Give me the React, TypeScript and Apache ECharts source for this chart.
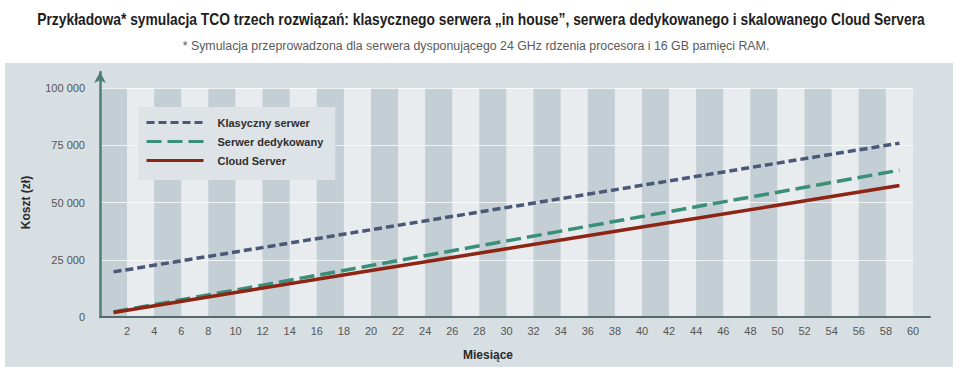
import React, { useEffect, useRef } from "react";
import * as echarts from "echarts";

const TITLE =
  "Przykładowa* symulacja TCO trzech rozwiązań: klasycznego serwera „in house”, serwera dedykowanego i skalowanego Cloud Servera";
const SUBTITLE =
  "* Symulacja przeprowadzona dla serwera dysponującego 24 GHz rdzenia procesora i 16 GB pamięci RAM.";
const Y_NAME = "Koszt (zł)";
const X_NAME = "Miesiące";

const seriesNames = ["Klasyczny serwer", "Serwer dedykowany", "Cloud Server"];
const months = [1, 10, 20, 30, 40, 50, 59];
const klasyczny = [19700, 28400, 38100, 47800, 57500, 67200, 75900];
const dedykowany = [2200, 11800, 22500, 33200, 43900, 54500, 64100];
const cloud = [2000, 10700, 20300, 29800, 39300, 48800, 57400];

const fmt = (v: number) => String(v).replace(/\B(?=(\d{3})+(?!\d))/g, " ");

const FONT = '"Liberation Sans", Arial, sans-serif';

function measure(text: string, font: string): number {
  const ctx = document.createElement("canvas").getContext("2d");
  if (!ctx) return 0;
  ctx.font = font;
  return ctx.measureText(text).width;
}

export default function App() {
  const ref = useRef<HTMLDivElement>(null);
  useEffect(() => {
    document.body.style.margin = "0";
    const chart = echarts.init(ref.current!, null, { renderer: "svg" });
    const pair = (vals: number[]) => months.map((m, i) => [m, vals[i]]);
    const titleW = measure(TITLE, `bold 17px ${FONT}`) || 1120;
    const subW = measure(SUBTITLE, `13.5px ${FONT}`) || 660;
    const titleScale = 888 / titleW;
    const subScale = 587 / subW;
    chart.setOption({
      animation: false,
      textStyle: { fontFamily: FONT },
      graphic: [
        {
          type: "rect",
          z: -10,
          silent: true,
          shape: { x: 5, y: 63, width: 948, height: 304 },
          style: { fill: "#d7dfe2" },
        },
        {
          type: "text",
          x: 481,
          y: 19,
          scaleX: titleScale,
          style: {
            text: TITLE,
            fontFamily: FONT,
            fontWeight: "bold",
            fontSize: 17,
            fill: "#1e1e1e",
            align: "center",
            verticalAlign: "middle",
          },
        },
        {
          type: "text",
          x: 476,
          y: 45,
          scaleX: subScale,
          style: {
            text: SUBTITLE,
            fontFamily: FONT,
            fontSize: 13.5,
            fill: "#5a5a5a",
            align: "center",
            verticalAlign: "middle",
          },
        },
        {
          type: "text",
          x: 488,
          y: 355,
          style: {
            text: X_NAME,
            fontWeight: "bold",
            fontSize: 12,
            fill: "#2a2a2a",
            align: "center",
            verticalAlign: "middle",
          },
        },
      ],
      grid: [
        { left: 100, right: 47, top: 88, bottom: 58 },
        { left: 100, right: 30, top: 72, bottom: 58 },
      ],
      legend: {
        orient: "vertical",
        left: 138,
        top: 107,
        data: seriesNames,
        itemWidth: 57,
        itemHeight: 12,
        itemGap: 8,
        padding: [10, 12, 14, 7],
        backgroundColor: "#dde3e6",
        itemStyle: { opacity: 0 },
        lineStyle: { width: 3 },
        textStyle: {
          fontSize: 11,
          fontWeight: "bold",
          color: "#2e2e2e",
          padding: [0, 0, 0, 9],
        },
      },
      xAxis: [
        {
          type: "value",
          gridIndex: 0,
          min: 0,
          max: 60,
          interval: 2,
          z: 0,
          axisLine: { show: false },
          axisTick: { show: false },
          splitLine: { show: false },
          splitArea: { show: true, areaStyle: { color: ["#c3cfd4", "#e8ecef"] } },
          axisLabel: { showMinLabel: false, fontSize: 11, color: "#555", margin: 8 },
        },
        {
          type: "value",
          gridIndex: 1,
          min: 0,
          max: 1,
          z: 3,
          axisLine: { show: true, onZero: false, lineStyle: { color: "#56696b", width: 2 } },
          axisTick: { show: false },
          axisLabel: { show: false },
          splitLine: { show: false },
        },
      ],
      yAxis: [
        {
          type: "value",
          gridIndex: 0,
          min: 0,
          max: 100000,
          interval: 25000,
          z: 1,
          name: Y_NAME,
          nameLocation: "middle",
          nameRotate: 90,
          nameGap: 68,
          nameTextStyle: { fontWeight: "bold", fontSize: 12, color: "#2a2a2a" },
          axisLine: { show: false },
          axisTick: { show: false },
          splitLine: { show: true, lineStyle: { color: "rgba(255,255,255,0.75)", width: 1 } },
          axisLabel: { fontSize: 11, color: "#555", margin: 15, formatter: (v: number) => fmt(v) },
        },
        {
          type: "value",
          gridIndex: 1,
          min: 0,
          max: 1,
          z: 3,
          axisLine: {
            show: true,
            onZero: false,
            symbol: ["none", "arrow"],
            symbolSize: [9, 11],
            lineStyle: { color: "#4e7f76", width: 2.5 },
          },
          axisTick: { show: false },
          axisLabel: { show: false },
          splitLine: { show: false },
        },
      ],
      series: [
        {
          name: seriesNames[0],
          type: "line",
          data: pair(klasyczny),
          symbol: "none",
          z: 5,
          lineStyle: { color: "#4b5878", width: 3.5, type: [8, 4] },
          itemStyle: { color: "#4b5878" },
        },
        {
          name: seriesNames[1],
          type: "line",
          data: pair(dedykowany),
          symbol: "none",
          z: 5,
          lineStyle: { color: "#3a8f78", width: 3.5, type: [15, 6] },
          itemStyle: { color: "#3a8f78" },
        },
        {
          name: seriesNames[2],
          type: "line",
          data: pair(cloud),
          symbol: "none",
          z: 6,
          lineStyle: { color: "#8e2413", width: 3.5 },
          itemStyle: { color: "#8e2413" },
        },
      ],
    });
    return () => chart.dispose();
  }, []);
  return <div ref={ref} style={{ width: 960, height: 375 }} />;
}
